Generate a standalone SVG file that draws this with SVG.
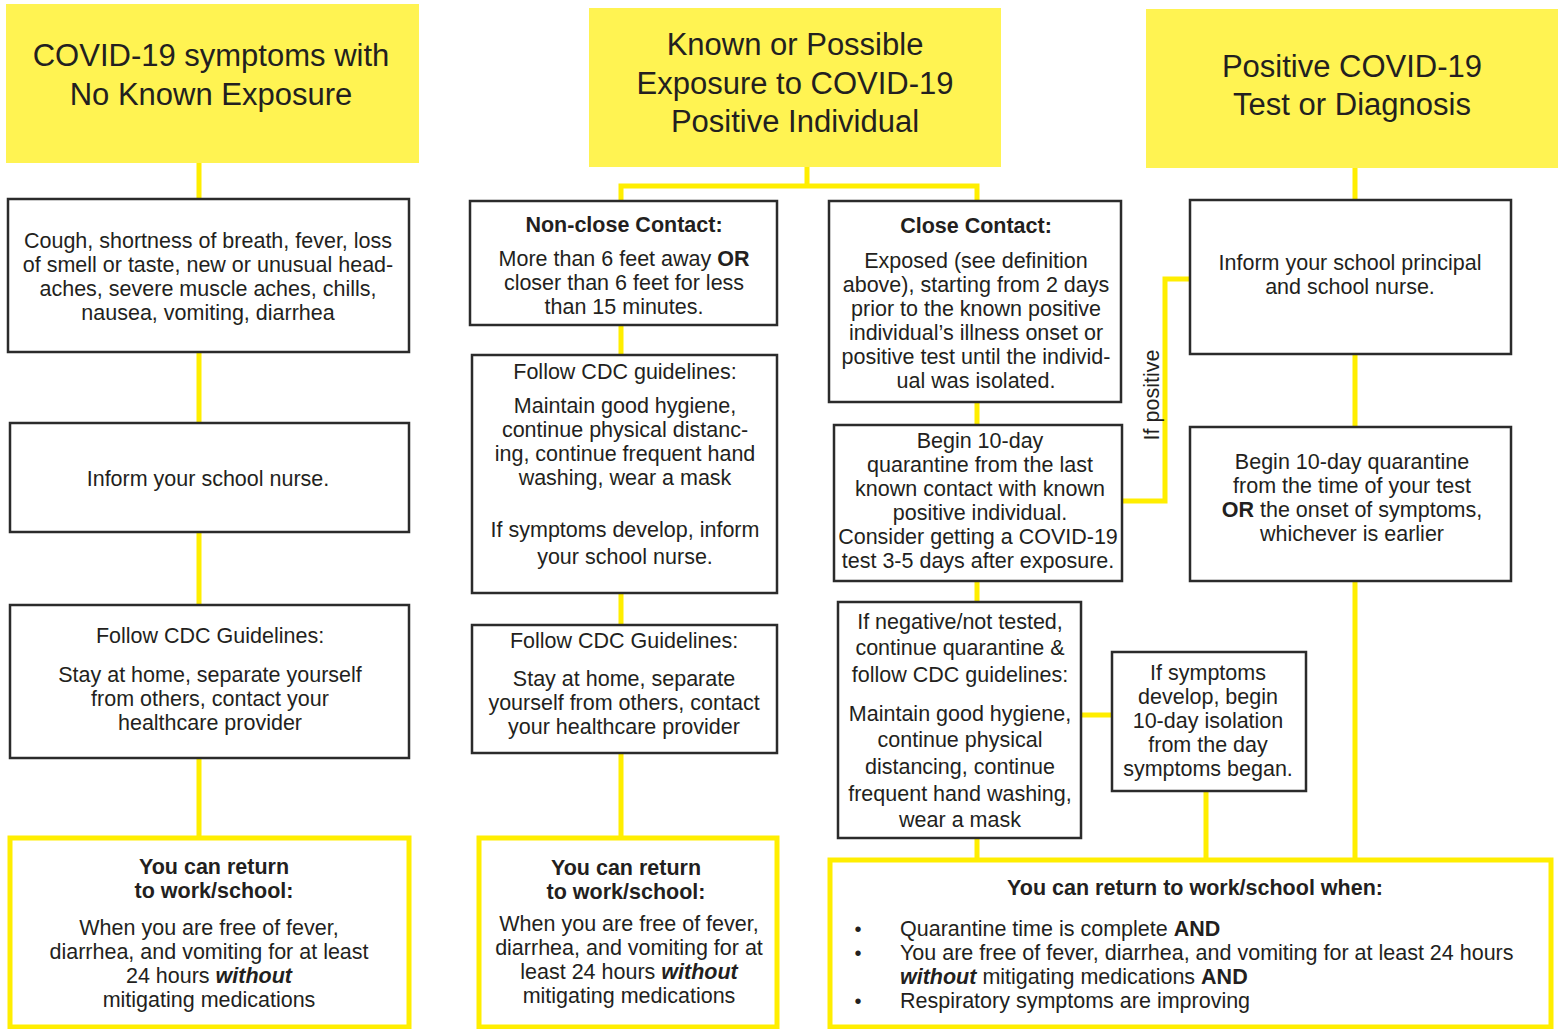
<svg xmlns="http://www.w3.org/2000/svg" width="1559" height="1029" viewBox="0 0 1559 1029">
<style>
.hdr{fill:#fff352;stroke:none}
.box{fill:#ffffff;stroke:#2b2b2b;stroke-width:2.5}
.ybox{fill:#ffffff;stroke:#ffee00;stroke-width:5}
.con{fill:none;stroke:#ffee00;stroke-width:5}
text{font-family:"Liberation Sans",Arial,sans-serif;fill:#231f20;font-size:21.5px;text-anchor:middle}
.h{font-size:31px}
.b{font-weight:bold}
.bi{font-weight:bold;font-style:italic}
.l{text-anchor:start}
.dot{font-size:20px}
</style>
<g id="connectors">
<path class="con" d="M199 163V199M199 352V423M199 532V605M199 758V838"/>
<path class="con" d="M807 167V186M621 201V186H977V201M621 325V355M621 593V625M621 753V838"/>
<path class="con" d="M977 402V425M977 581V602M977 838V860M1081 715H1112M1206 791V860"/>
<path class="con" d="M1355 168V200M1355 354V427M1355 581V860"/>
<path class="con" d="M1122 501H1165V279H1190"/>
<text transform="translate(1159,395) rotate(-90)">If positive</text>
</g>
<g id="h1"><rect class="hdr" x="6" y="4" width="413" height="159"/>
<text class="h" x="211" y="66">COVID-19 symptoms with</text><text class="h" x="211" y="105">No Known Exposure</text></g>
<g id="h2"><rect class="hdr" x="589" y="8" width="412" height="159"/>
<text class="h" x="795" y="55">Known or Possible</text><text class="h" x="795" y="94">Exposure to COVID-19</text><text class="h" x="795" y="132">Positive Individual</text></g>
<g id="h3"><rect class="hdr" x="1146" y="9" width="412" height="159"/>
<text class="h" x="1352" y="77">Positive COVID-19</text><text class="h" x="1352" y="115">Test or Diagnosis</text></g>

<g id="symptoms"><rect class="box" x="8" y="199" width="401" height="153"/>
<text x="208" y="248">Cough, shortness of breath, fever, loss</text>
<text x="208" y="272">of smell or taste, new or unusual head-</text>
<text x="208" y="296">aches, severe muscle aches, chills,</text>
<text x="208" y="320">nausea, vomiting, diarrhea</text></g>
<g id="inform-nurse"><rect class="box" x="10" y="423" width="399" height="109"/>
<text x="208" y="486">Inform your school nurse.</text></g>
<g id="follow-cdc-1"><rect class="box" x="10" y="605" width="399" height="153"/>
<text x="210" y="643">Follow CDC Guidelines:</text>
<text x="210" y="682">Stay at home, separate yourself</text>
<text x="210" y="706">from others, contact your</text>
<text x="210" y="730">healthcare provider</text></g>
<g id="return-1"><rect class="ybox" x="10" y="838" width="399" height="189"/>
<text class="b" x="214" y="874">You can return</text>
<text class="b" x="214" y="898">to work/school:</text>
<text x="209" y="935">When you are free of fever,</text>
<text x="209" y="959">diarrhea, and vomiting for at least</text>
<text x="209" y="983">24 hours <tspan class="bi">without</tspan></text>
<text x="209" y="1007">mitigating medications</text></g>

<g id="non-close"><rect class="box" x="470" y="201" width="307" height="124"/>
<text class="b" x="624" y="232">Non-close Contact:</text>
<text x="624" y="266">More than 6 feet away <tspan class="b">OR</tspan></text>
<text x="624" y="290">closer than 6 feet for less</text>
<text x="624" y="314">than 15 minutes.</text></g>
<g id="follow-cdc-2"><rect class="box" x="472" y="355" width="305" height="238"/>
<text x="625" y="379">Follow CDC guidelines:</text>
<text x="625" y="413">Maintain good hygiene,</text>
<text x="625" y="437">continue physical distanc-</text>
<text x="625" y="461">ing, continue frequent hand</text>
<text x="625" y="485">washing, wear a mask</text>
<text x="625" y="537">If symptoms develop, inform</text>
<text x="625" y="564">your school nurse.</text></g>
<g id="follow-cdc-3"><rect class="box" x="472" y="625" width="305" height="128"/>
<text x="624" y="648">Follow CDC Guidelines:</text>
<text x="624" y="686">Stay at home, separate</text>
<text x="624" y="710">yourself from others, contact</text>
<text x="624" y="734">your healthcare provider</text></g>
<g id="return-2"><rect class="ybox" x="479" y="838" width="298" height="189"/>
<text class="b" x="626" y="875">You can return</text>
<text class="b" x="626" y="899">to work/school:</text>
<text x="629" y="931">When you are free of fever,</text>
<text x="629" y="955">diarrhea, and vomiting for at</text>
<text x="629" y="979">least 24 hours <tspan class="bi">without</tspan></text>
<text x="629" y="1003">mitigating medications</text></g>

<g id="close"><rect class="box" x="829" y="201" width="292" height="201"/>
<text class="b" x="976" y="233">Close Contact:</text>
<text x="976" y="268">Exposed (see definition</text>
<text x="976" y="292">above), starting from 2 days</text>
<text x="976" y="316">prior to the known positive</text>
<text x="976" y="340">individual’s illness onset or</text>
<text x="976" y="364">positive test until the individ-</text>
<text x="976" y="388">ual was isolated.</text></g>
<g id="begin-quarantine-close"><rect class="box" x="834" y="425" width="288" height="156"/>
<text x="980" y="448">Begin 10-day</text>
<text x="980" y="472">quarantine from the last</text>
<text x="980" y="496">known contact with known</text>
<text x="980" y="520">positive individual.</text>
<text x="978" y="544">Consider getting a COVID-19</text>
<text x="978" y="568">test 3-5 days after exposure.</text></g>
<g id="if-negative"><rect class="box" x="838" y="602" width="243" height="236"/>
<text x="960" y="629">If negative/not tested,</text>
<text x="960" y="655">continue quarantine &amp;</text>
<text x="960" y="682">follow CDC guidelines:</text>
<text x="960" y="721">Maintain good hygiene,</text>
<text x="960" y="747">continue physical</text>
<text x="960" y="774">distancing, continue</text>
<text x="960" y="801">frequent hand washing,</text>
<text x="960" y="827">wear a mask</text></g>
<g id="if-symptoms"><rect class="box" x="1112" y="652" width="194" height="139"/>
<text x="1208" y="680">If symptoms</text>
<text x="1208" y="704">develop, begin</text>
<text x="1208" y="728">10-day isolation</text>
<text x="1208" y="752">from the day</text>
<text x="1208" y="776">symptoms began.</text></g>
<g id="return-3"><rect class="ybox" x="830" y="860" width="721" height="167"/>
<text class="b" x="1195" y="895">You can return to work/school when:</text>
<text class="dot" x="858" y="936">•</text><text class="l" x="900" y="936">Quarantine time is complete <tspan class="b">AND</tspan></text>
<text class="dot" x="858" y="960">•</text><text class="l" x="900" y="960">You are free of fever, diarrhea, and vomiting for at least 24 hours</text>
<text class="l" x="900" y="984"><tspan class="bi">without</tspan> mitigating medications <tspan class="b">AND</tspan></text>
<text class="dot" x="858" y="1008">•</text><text class="l" x="900" y="1008">Respiratory symptoms are improving</text></g>

<g id="inform-principal"><rect class="box" x="1190" y="200" width="321" height="154"/>
<text x="1350" y="270">Inform your school principal</text>
<text x="1350" y="294">and school nurse.</text></g>
<g id="begin-quarantine-positive"><rect class="box" x="1190" y="427" width="321" height="154"/>
<text x="1352" y="469">Begin 10-day quarantine</text>
<text x="1352" y="493">from the time of your test</text>
<text x="1352" y="517"><tspan class="b">OR</tspan> the onset of symptoms,</text>
<text x="1352" y="541">whichever is earlier</text></g>
</svg>
